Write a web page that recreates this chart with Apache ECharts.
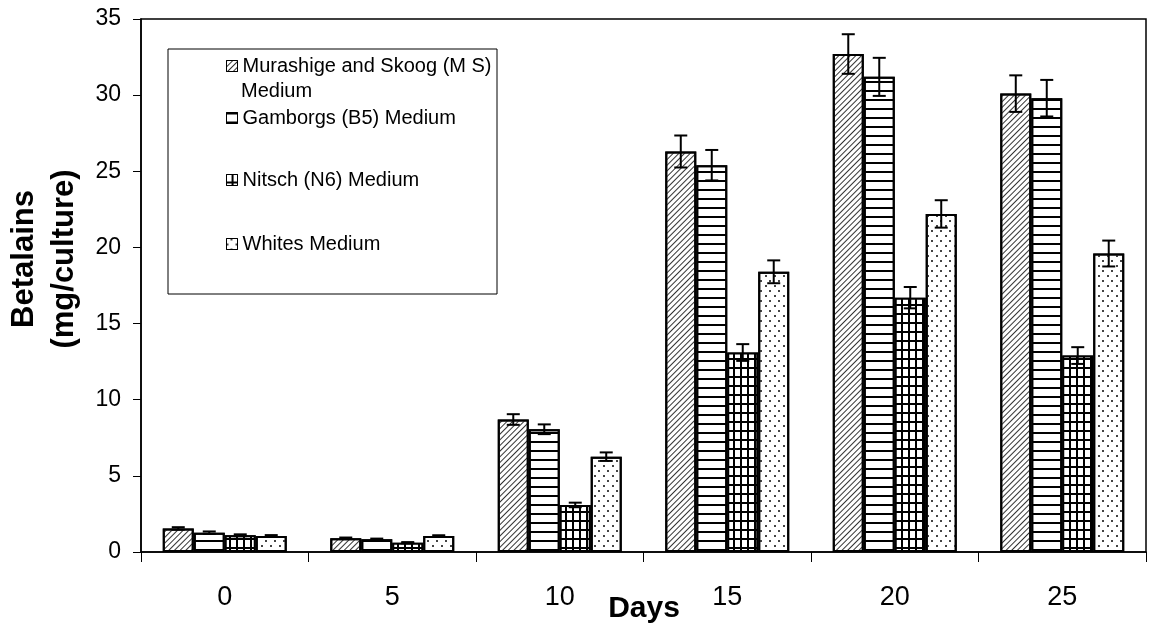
<!DOCTYPE html>
<html>
<head>
<meta charset="utf-8">
<script src="https://cdn.jsdelivr.net/npm/echarts@6/dist/echarts.min.js"></script>
<style>html,body{margin:0;padding:0;background:#fff}#c{width:1150px;height:629px}</style>
</head>
<body>
<div id="c"></div>
<script>
const days = ['0', '5', '10', '15', '20', '25'];
const seriesNames = ['Murashige and Skoog (M S) Medium', 'Gamborgs (B5) Medium', 'Nitsch (N6) Medium', 'Whites Medium'];
const msValues = [1.55, 0.9, 8.7, 26.3, 32.7, 30.1];
const msErrors = [0.08, 0.05, 0.35, 1.05, 1.3, 1.2];
const b5Values = [1.27, 0.83, 8.06, 25.4, 31.2, 29.8];
const b5Errors = [0.08, 0.05, 0.32, 1.0, 1.25, 1.2];
const n6Values = [1.1, 0.61, 3.09, 13.1, 16.7, 12.9];
const n6Errors = [0.06, 0.04, 0.15, 0.55, 0.7, 0.55];
const whValues = [1.05, 1.05, 6.26, 18.4, 22.2, 19.6];
const whErrors = [0.06, 0.05, 0.28, 0.75, 0.9, 0.85];
const yTicks = { min: 0, max: 35, interval: 5 };

const FONT = "'Liberation Sans', Arial, sans-serif";
const allValues = [msValues, b5Values, n6Values, whValues];
const allErrors = [msErrors, b5Errors, n6Errors, whErrors];
const CAT_GAP = 0.26;

const decals = [
  { symbol: 'rect', color: '#333', dashArrayX: [1, 0], dashArrayY: [1, 2.4], rotation: -Math.PI / 4 },
  { symbol: 'rect', color: '#000', dashArrayX: [1, 0], dashArrayY: [1.6, 6.1] },
  { symbol: 'rect', color: '#fff', dashArrayX: [5, 1.6], dashArrayY: [6.1, 1.6] },
  { symbol: 'rect', color: '#444', dashArrayX: [[1.6, 6.1], [0, 3.85, 1.6, 2.25]], dashArrayY: [1.6, 2.25] }
];
const fills = ['#fff', '#fff', '#000', '#fff'];

const barSeries = seriesNames.map((name, i) => ({
  name: name,
  type: 'bar',
  data: allValues[i],
  barGap: '0%',
  barCategoryGap: (CAT_GAP * 100) + '%',
  itemStyle: { color: fills[i], borderColor: '#000', borderWidth: 2, decal: decals[i] },
  emphasis: { disabled: true },
  z: 2
}));

const errSeries = seriesNames.map((name, i) => ({
  name: 'err' + i,
  type: 'custom',
  data: allValues[i].map((v, k) => [k, v, allErrors[i][k]]),
  encode: { x: 0, y: 1 },
  z: 10,
  silent: true,
  renderItem: function (params, api) {
    const x = api.value(0), y = api.value(1), e = api.value(2);
    const band = api.size([1, 0])[0];
    const bw = band * (1 - CAT_GAP) / 4;
    const cx = api.coord([x, y])[0] - band * (1 - CAT_GAP) / 2 + bw * (i + 0.5);
    const yt = api.coord([x, y + e])[1];
    const yb = api.coord([x, y - e])[1];
    const h = 6.5;
    const st = { stroke: '#000', lineWidth: 2 };
    return {
      type: 'group',
      children: [
        { type: 'line', shape: { x1: cx, y1: yt, x2: cx, y2: yb }, style: st },
        { type: 'line', shape: { x1: cx - h, y1: yt, x2: cx + h, y2: yt }, style: st },
        { type: 'line', shape: { x1: cx - h, y1: yb, x2: cx + h, y2: yb }, style: st }
      ]
    };
  }
}));

const legendTops = [56, 108, 170, 234];
const legendBase = {
  orient: 'horizontal',
  left: 226,
  padding: 0,
  icon: 'rect',
  itemWidth: 11,
  itemHeight: 11,
  selectedMode: false,
  itemStyle: { borderColor: '#000', borderWidth: 1 },
  textStyle: { fontSize: 20, fontFamily: FONT, color: '#000', lineHeight: 20 }
};
const legends = seriesNames.map((n, i) => Object.assign({}, legendBase, {
  data: [n],
  top: legendTops[i],
  formatter: i === 0 ? function () { return 'Murashige and Skoog (M S)'; } : '{name}'
}));

const chart = echarts.init(document.getElementById('c'), null, { renderer: 'canvas' });
chart.setOption({
  animation: false,
  backgroundColor: '#fff',
  grid: { left: 141, right: 4, top: 19, bottom: 77, show: true, borderColor: '#000', borderWidth: 1.5, backgroundColor: 'transparent' },
  legend: legends,
  xAxis: {
    type: 'category',
    data: days,
    boundaryGap: true,
    axisLine: { lineStyle: { color: '#000', width: 1.5 } },
    axisTick: { show: true, alignWithLabel: false, length: 10, lineStyle: { color: '#000', width: 1 } },
    axisLabel: { fontSize: 27, fontFamily: FONT, color: '#000', margin: 32 },
    splitLine: { show: false }
  },
  yAxis: {
    type: 'value',
    min: yTicks.min,
    max: yTicks.max,
    interval: yTicks.interval,
    axisLine: { show: true, lineStyle: { color: '#000', width: 1.5 } },
    axisTick: { show: true, length: 8, lineStyle: { color: '#000', width: 1 } },
    axisLabel: { fontSize: 23, fontFamily: FONT, color: '#000', margin: 20 },
    splitLine: { show: false }
  },
  graphic: [
    { type: 'rect', shape: { x: 168, y: 49, width: 329, height: 245 }, style: { fill: 'transparent', stroke: '#000', lineWidth: 1 }, z: 5 },
    { type: 'text', x: 241, y: 91, style: { text: 'Medium', font: '20px ' + FONT, fill: '#000', textAlign: 'left', textVerticalAlign: 'middle' }, z: 5 },
    { type: 'text', x: 644, y: 609, style: { text: 'Days', font: 'bold 30px ' + FONT, fill: '#000', textAlign: 'center', textVerticalAlign: 'middle' }, z: 5 },
    { type: 'text', x: 44, y: 259, rotation: Math.PI / 2, style: { text: 'Betalains\n(mg/culture)', font: 'bold 31px ' + FONT, lineHeight: 40, fill: '#000', textAlign: 'center', textVerticalAlign: 'middle' }, z: 5 }
  ],
  series: barSeries.concat(errSeries)
});
</script>
</body>
</html>
